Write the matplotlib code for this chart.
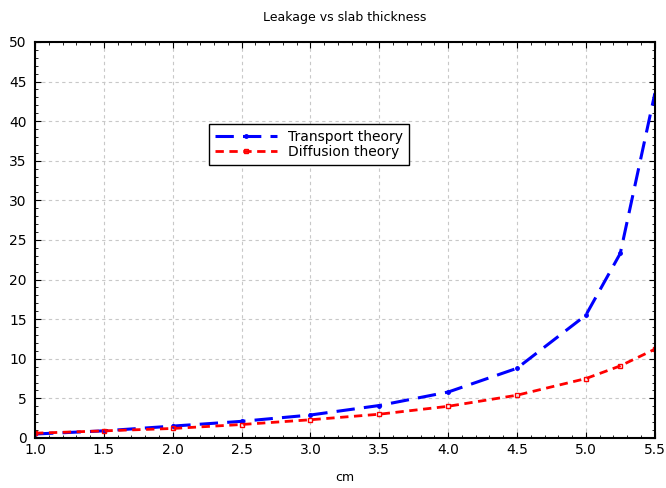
import numpy as np
import matplotlib
matplotlib.use('Agg')
import matplotlib.pyplot as plt
from matplotlib.ticker import MultipleLocator

# slab thickness (cm) and leakage values
thickness = [1.0, 1.5, 2.0, 2.5, 3.0, 3.5, 4.0, 4.5, 5.0, 5.25, 5.5]
transport = [0.5, 0.9, 1.5, 2.1, 2.9, 4.1, 5.8, 8.8, 15.5, 23.3, 43.4]
diffusion = [0.6, 0.9, 1.2, 1.7, 2.3, 3.0, 4.0, 5.4, 7.5, 9.1, 11.2]

fig = plt.figure(figsize=(6.66, 4.88), dpi=100)
ax = fig.add_axes([0.0526, 0.1025, 0.9304, 0.8115])

ax.plot(thickness, transport, color="blue", linestyle=(0, (6, 3)), linewidth=2.2,
        marker="o", markersize=2.5, label="Transport theory")
ax.plot(thickness, diffusion, color="red", linestyle=(0, (3, 2)), linewidth=2,
        marker="s", markersize=3, markerfacecolor="none", label="Diffusion theory")

ax.set_xlim(1.0, 5.5)
ax.set_ylim(0, 50)
ax.xaxis.set_major_locator(MultipleLocator(0.5))
ax.xaxis.set_minor_locator(MultipleLocator(0.1))
ax.yaxis.set_major_locator(MultipleLocator(5))
ax.yaxis.set_minor_locator(MultipleLocator(1))
ax.tick_params(which="both", direction="in", top=True, right=True, labelsize=10)
ax.tick_params(which="major", length=4)
ax.tick_params(which="minor", length=2)
ax.tick_params(axis="y", pad=6)
ax.grid(True, color="#c8c8c8", linestyle=(0, (3, 3)), linewidth=0.8)
for s in ax.spines.values():
    s.set_linewidth(1.5)

ax.set_title("Leakage vs slab thickness", fontsize=9, pad=15)
ax.set_xlabel("cm", fontsize=9, labelpad=10)

leg = ax.legend(loc="upper left", bbox_to_anchor=(0.27, 0.81), fancybox=False,
                edgecolor="black", framealpha=1, fontsize=10, handlelength=4.5,
                borderpad=0.4, labelspacing=0.1)
leg.get_frame().set_linewidth(1.0)

fig.savefig("out.png")
